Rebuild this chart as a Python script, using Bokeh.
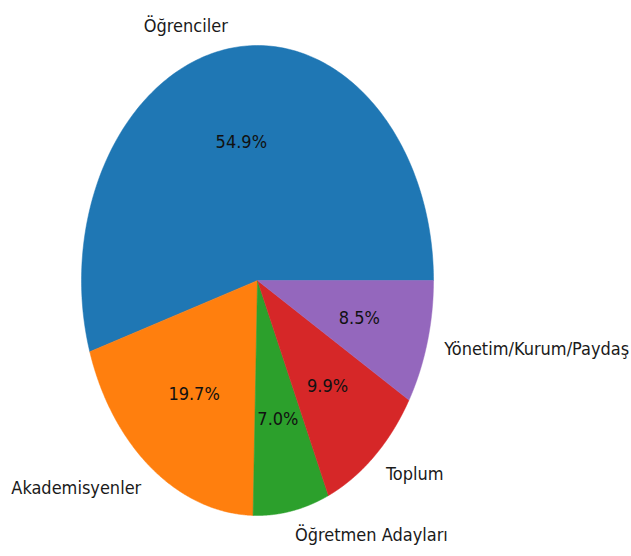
import numpy as np
from bokeh.plotting import figure
from bokeh.models import ColumnDataSource, Range1d
from bokeh.core.properties import value
from bokeh.embed import file_html
from bokeh.resources import INLINE

labels = ["Öğrenciler", "Akademisyenler", "Öğretmen Adayları", "Toplum", "Yönetim/Kurum/Paydaş"]
shares = [54.9, 19.7, 7.0, 9.9, 8.5]
colors = ["#1f77b4", "#ff7f0e", "#2ca02c", "#d62728", "#9467bd"]

W, H = 631, 556
p = figure(width=W, height=H, output_backend="svg", toolbar_location=None,
           min_border=0, x_axis_type=None, y_axis_type=None)
p.outline_line_color = None
p.grid.visible = False
p.background_fill_color = "white"
p.border_fill_color = "white"

# pie center (px in figure) and pixel radii (pie appears as ellipse)
cx, cy, rx, ry = 257.0, 280.0, 176.0, 235.0
p.x_range = Range1d(-cx / rx, (W - cx) / rx)
p.y_range = Range1d(-(H - cy) / ry, cy / ry)

vals = np.array(shares, dtype=float)
frac = vals / vals.sum()
ends = np.cumsum(frac) * 2 * np.pi
starts = ends - frac * 2 * np.pi

xs, ys = [], []
for a0, a1 in zip(starts, ends):
    t = np.linspace(a0, a1, 200)
    xs.append(np.concatenate([[0.0], np.cos(t), [0.0]]))
    ys.append(np.concatenate([[0.0], np.sin(t), [0.0]]))
p.patches(xs=xs, ys=ys, fill_color=colors, line_color=colors, line_width=0.5)

mids = (starts + ends) / 2
lx = 1.1 * np.cos(mids)
ly = 1.1 * np.sin(mids)
align = ["right" if x < 0 else "left" for x in lx]
src = ColumnDataSource(dict(x=lx, y=ly, t=labels, a=align))
p.text(x="x", y="y", text="t", text_align="a", text_baseline="middle", source=src,
       text_font=value("DejaVu Sans Condensed"), text_font_size="18px", text_color="#1a1a1a")

px_ = 0.6 * np.cos(mids)
py_ = 0.6 * np.sin(mids)
pct = [f"{v:.1f}%" for v in frac * 100]
src2 = ColumnDataSource(dict(x=px_, y=py_, t=pct))
p.text(x="x", y="y", text="t", text_align="center", text_baseline="middle", source=src2,
       text_font=value("DejaVu Sans Condensed"), text_font_size="18px", text_color="#111111")

open("out.html", "w").write(file_html(p, INLINE))
